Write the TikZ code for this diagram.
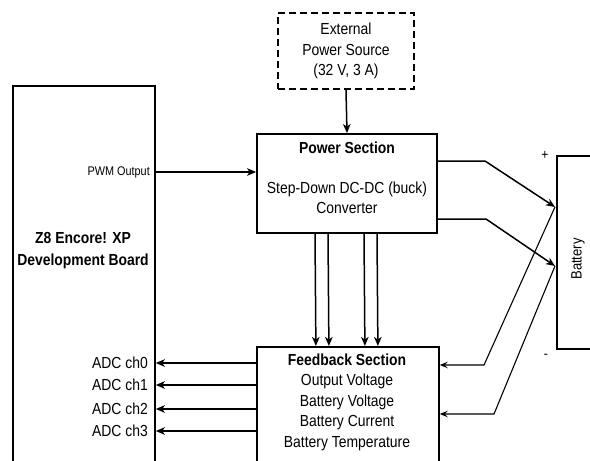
\documentclass[tikz,border=0pt]{standalone}
\usepackage{fontspec}
\setmainfont{Liberation Sans}[FakeStretch=0.87]
\usetikzlibrary{arrows.meta}
\newcommand{\blocktext}{\fontsize{16}{20.5}\selectfont}
\tikzset{blk/.style={draw, line width=1.8pt, inner sep=0pt},
  arr/.style={-{Stealth[length=9pt,width=7.5pt,inset=2.5pt]}, line width=1.5pt},
  farr/.style={-{Stealth[length=8pt,width=6.5pt,inset=3pt]}, line width=1.1pt}}

\begin{document}
\begin{tikzpicture}[x=1pt, y=-1pt, every node/.style={font=\blocktext, align=center}]
\useasboundingbox (0,0) rectangle (590,461);
\node[blk, minimum width=142, minimum height=400, anchor=north west] (board) at (12,85) {};
\node[font=\fontsize{16}{22}\selectfont\bfseries] (boardname) at (83,251) {Z8 Encore! XP\\Development Board};
\node[blk, dashed, dash pattern=on 7pt off 4pt, minimum width=136, minimum height=76] (ext) at (346,51) {External\\Power Source\\(32 V, 3 A)};
\node[blk, minimum width=180, minimum height=99] (power) at (347,183.5) {};
\node (powertitle) at (347,148) {\textbf{Power Section}};
\node (powertext) at (347,198) {Step-Down DC-DC (buck)\\Converter};
\node[blk, minimum width=182, minimum height=150, anchor=north west] (fb) at (256,346) {};
\node (fbtext) at (347,402) {\textbf{Feedback Section}\\Output Voltage\\Battery Voltage\\Battery Current\\Battery Temperature};
\node[blk, minimum width=80, minimum height=193, anchor=north west] (battery) at (556,155) {};
\node[rotate=90, font=\fontsize{15}{18}\selectfont] (batlabel) at (578,259) {Battery};
\node[font=\fontsize{14}{16}\selectfont] (plus) at (545,155) {+};
\node[font=\fontsize{14}{16}\selectfont] (minus) at (546,356) {-};
\coordinate (tplus) at (555,207);
\coordinate (tminus) at (555,266);
\coordinate (pbend1) at (485,161);
\coordinate (pbend2) at (486,219);
\coordinate (fbend1) at (484,365);
\coordinate (fbend2) at (494,414);
\draw[arr] (ext.south) -- (power.north);
\node[font=\fontsize{12.5}{14}\selectfont, anchor=east, inner sep=0pt] (pwm) at (150,172) {PWM Output};
\draw[arr] (board.east |- pwm) -- (power.west |- pwm);
\draw[arr] (power.east |- pbend1) -- (pbend1) -- (tplus);
\draw[arr] (power.east |- pbend2) -- (pbend2) -- (tminus);
\draw[farr] (tplus) -- (fbend1) -- (fb.east |- fbend1);
\draw[farr] (tminus) -- (fbend2) -- (fb.east |- fbend2);
\foreach \d in {-32,-19,17,30} \draw[arr] ([xshift=\d]power.south) -- ([xshift=\d]fb.north);
\foreach \y [count=\i from 0] in {363,385,409,431} {
  \node[anchor=east, inner sep=0pt] (adc\i) at (148,\y) {ADC ch\i};
  \draw[arr] (fb.west |- adc\i) -- (board.east |- adc\i);
}
\end{tikzpicture}
\end{document}
